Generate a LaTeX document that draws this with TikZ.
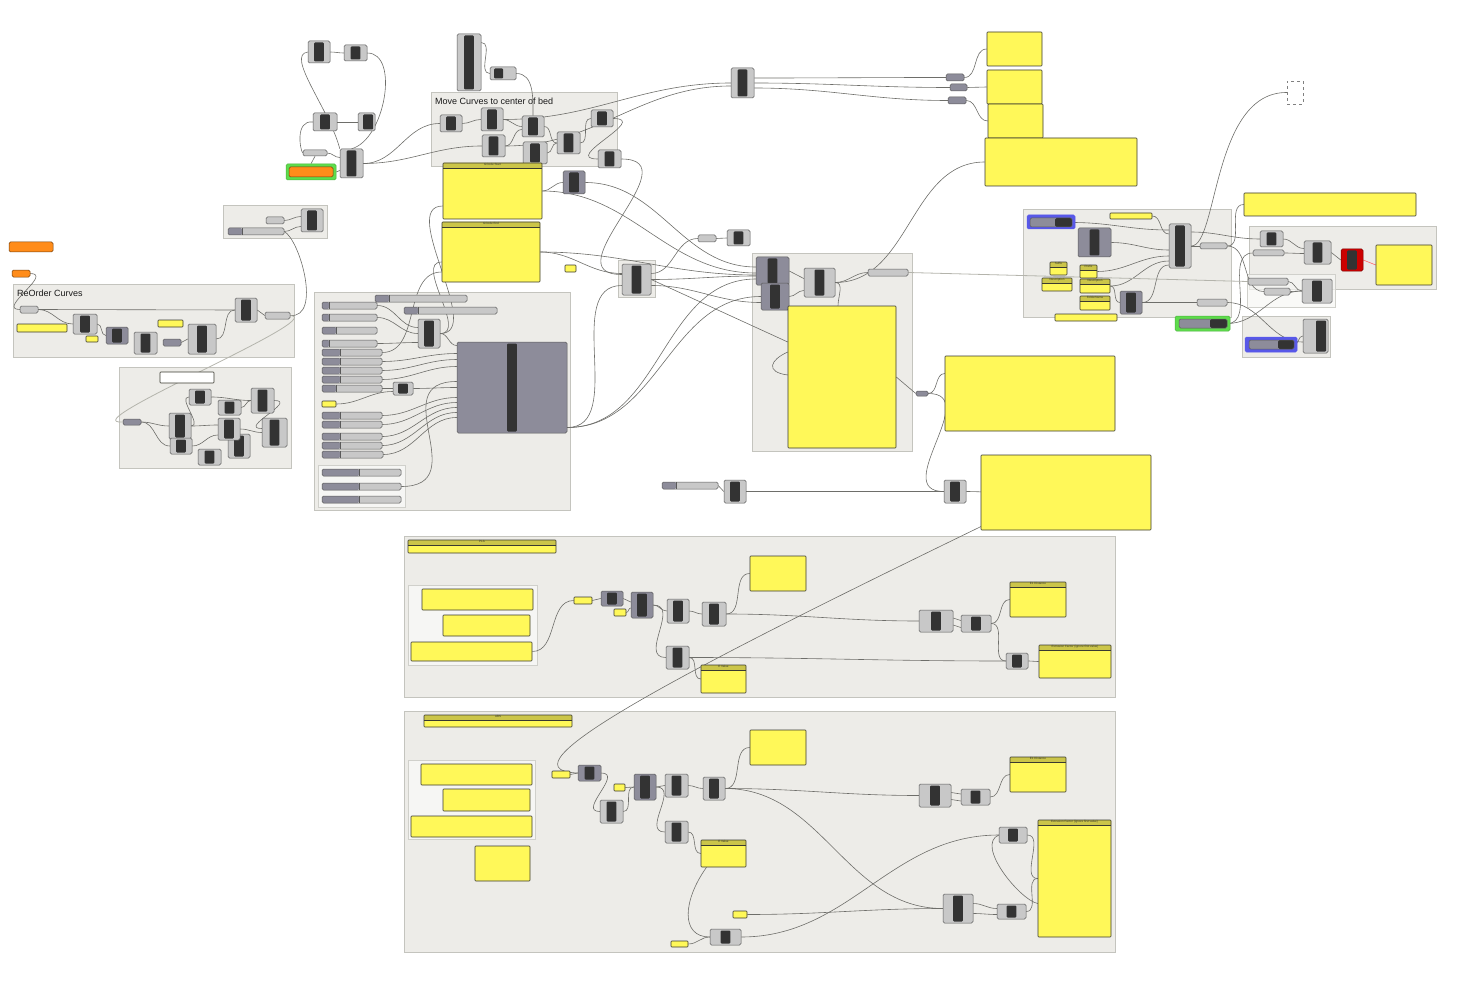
\documentclass[tikz,border=0pt]{standalone}
\usepackage{fontspec}
\setmainfont{Liberation Sans}
\usepackage{tikz}
\definecolor{gfill}{HTML}{EDECE8}
\definecolor{gline}{HTML}{C4C4BE}
\definecolor{sfill}{HTML}{F6F6F4}
\definecolor{cgray}{HTML}{C8C8C8}
\definecolor{dgray}{HTML}{8D8C9A}
\definecolor{barc}{HTML}{333333}
\definecolor{edgec}{HTML}{5A5A5A}
\definecolor{yel}{HTML}{FFF859}
\definecolor{hdr}{HTML}{CBC549}
\definecolor{pedge}{HTML}{3A3A30}
\definecolor{orng}{HTML}{FF8C1A}
\definecolor{grn}{HTML}{5EDC4C}
\definecolor{blu}{HTML}{5858E8}
\definecolor{redc}{HTML}{CC0000}
\definecolor{wirec}{HTML}{6E6E6A}
\definecolor{fwirec}{HTML}{B4B4AC}
\newcommand{\hfont}{\fontsize{3}{3.5}\selectfont}
\pgfdeclarelayer{groups}
\pgfdeclarelayer{wires}
\pgfsetlayers{groups,wires,main}
\tikzset{
	sz/.style 2 args = {minimum width=#1, minimum height=#2},
	grp/.style = {draw=gline, fill=gfill, line width=1pt, inner sep=0pt},
	subgrp/.style = {draw=gline!80, fill=sfill, line width=0.8pt, inner sep=0pt},
	title/.style = {font=\fontsize{9}{10}\selectfont, inner sep=0pt, text=black!90},
	gbox/.style = {draw=edgec, fill=cgray, rounded corners=1.5pt, line width=0.5pt, inner sep=0pt},
	comp/.style = {gbox, path picture={\fill[barc, rounded corners=1pt] ([xshift=-4.8pt,yshift=-1.5pt]path picture bounding box.north) rectangle ([xshift=4.8pt,yshift=1.5pt]path picture bounding box.south);}},
	dcomp/.style = {comp, fill=dgray},
	lcomp/.style = {gbox, path picture={\fill[barc, rounded corners=1pt] ([xshift=4pt,yshift=-1.5pt]path picture bounding box.north west) rectangle ([xshift=13pt,yshift=1.5pt]path picture bounding box.south west);}},
	rcomp/.style = {gbox, path picture={\fill[barc, rounded corners=1pt] ([xshift=-12pt,yshift=-1.5pt]path picture bounding box.north east) rectangle ([xshift=-2pt,yshift=1.5pt]path picture bounding box.south east);}},
	param/.style = {gbox},
	dparam/.style = {gbox, fill=dgray},
	slider/.style = {gbox, path picture={\fill[dgray] (path picture bounding box.south west) rectangle ([xshift=#1]path picture bounding box.north west); \draw[edgec, line width=0.4pt] ([xshift=#1]path picture bounding box.south west) -- ([xshift=#1]path picture bounding box.north west);}},
	rslider/.style = {gbox, fill=dgray, path picture={\fill[barc] ([xshift=-#1]path picture bounding box.south east) rectangle (path picture bounding box.north east);}},
	panel/.style = {draw=pedge, fill=yel, line width=0.6pt, inner sep=0pt, rounded corners=0.8pt},
	hpanel/.style = {panel, path picture={\fill[hdr] ([yshift=-5.5pt]path picture bounding box.north west) rectangle (path picture bounding box.north east); \draw[pedge, line width=0.8pt] ([yshift=-5.5pt]path picture bounding box.north west) -- ([yshift=-5.5pt]path picture bounding box.north east);}, label={[font=\hfont, inner sep=0.7pt, anchor=north, text=pedge]north:#1}},
	wire/.style = {draw=wirec, line width=0.6pt},
	fwire/.style = {draw=fwirec, line width=0.8pt},
	ww/.style = {out=0, in=180}
}

\begin{document}
\begin{tikzpicture}[x=1pt, y=-1pt]
\useasboundingbox (0,0) rectangle (1470,987);

% groups
\begin{pgfonlayer}{groups}
\node[grp, sz={186}{74}] (gmove) at (524,130) {};
\node[grp, sz={281}{73}] (greorder) at (153.5,320.5) {};
\node[grp, sz={104}{33}] (gtop) at (275,222.5) {};
\node[grp, sz={172}{101}] (glow) at (205,417.5) {};
\node[grp, sz={256}{218}] (gsliders) at (442,401) {};
\node[subgrp, sz={87}{42}] (gsub) at (361.5,486) {};
\node[grp, sz={37}{37}] (gp) at (636.5,278.5) {};
\node[grp, sz={160}{197}] (gmid) at (832,352.5) {};
\node[grp, sz={208}{107}] (gr1) at (1127,263.5) {};
\node[grp, sz={187}{62}] (gr2) at (1342.5,258) {};
\node[subgrp, fill opacity=0.7, sz={88}{33}] (gr3) at (1291,290.5) {};
\node[grp, sz={88}{41}] (gr4) at (1286,336.5) {};
\node[grp, sz={711}{161}] (ga) at (759.5,616.5) {};
\node[subgrp, sz={129}{80}] (gasub) at (472.5,625) {};
\node[grp, sz={711}{241}] (gb) at (759.5,831.5) {};
\node[subgrp, sz={127}{79}] (gbsub) at (471.5,799.5) {};
\end{pgfonlayer}
\node[title, anchor=west] (tmove) at (435,101) {Move Curves to center of bed};
\node[title, anchor=west] (treorder) at (17,293) {ReOrder Curves};

% top left
\node[comp, sz={22}{22}] (c1) at (319,52) {};
\node[comp, sz={23}{16}] (c2) at (355.5,53) {};
\node[comp, sz={24}{18}] (c3) at (325,122) {};
\node[rcomp, sz={17}{18}] (c4) at (366.5,122) {};
\node[param, sz={24}{6}] (c5) at (315,153) {};
\node[gbox, fill=grn, draw=grn!80!black, sz={50}{16}] (grn1) at (311,172) {};
\node[gbox, fill=orng, draw=orng!45!black, sz={44}{10}] (or0) at (311,172) {};
\node[comp, sz={23}{29}] (c6) at (351.5,163.5) {};
\node[comp, sz={24}{57}] (c7) at (469,62.5) {};
\node[lcomp, sz={26}{13}] (c8) at (503,73.5) {};

% move curves
\node[comp, sz={22}{17}] (m1) at (451,123.5) {};
\node[comp, sz={22}{23}] (m2) at (492,119.5) {};
\node[comp, sz={22}{21}] (m3) at (533,126.5) {};
\node[comp, sz={22}{17}] (m4) at (602,118.5) {};
\node[comp, sz={23}{22}] (m5) at (493.5,146) {};
\node[comp, sz={24}{22}] (m6) at (535,153) {};
\node[comp, sz={23}{22}] (m7) at (568.5,143) {};
\node[comp, sz={23}{18}] (m8) at (609.5,159) {};
\node[dcomp, sz={22}{23}] (md) at (574,182.5) {};
\node[hpanel=GCode Start, sz={99}{56}] (gcs) at (492.5,191) {};
\node[hpanel=GCode End, sz={98}{60}] (gce) at (491,252) {};

% reorder curves
\node[gbox, fill=orng, draw=orng!45!black, sz={44}{10}] (or1) at (31,247) {};
\node[gbox, fill=orng, draw=orng!45!black, sz={18}{7}] (or2) at (21,273.5) {};
\node[param, sz={18}{7}] (r1) at (29,309.5) {};
\node[panel, sz={50}{8}] (ry1) at (42,328) {};
\node[comp, sz={24}{20}] (r2) at (85,324) {};
\node[panel, sz={12}{6}] (ry2) at (92,339) {};
\node[dcomp, sz={22}{17}] (r3) at (117,335.5) {};
\node[comp, sz={23}{22}] (r4) at (145.5,343) {};
\node[panel, sz={25}{7}] (ry3) at (170.5,323.5) {};
\node[dparam, sz={18}{7}] (r5) at (172,342.5) {};
\node[comp, sz={28}{30}] (r6) at (202,339) {};
\node[comp, sz={22}{24}] (r7) at (246,310) {};
\node[param, sz={25}{7}] (r8) at (277.5,315.5) {};
\node[param, sz={18}{7}] (s1) at (275,220.5) {};
\node[slider=14, sz={56}{7}] (s2) at (256,231.5) {};
\node[comp, sz={22}{23}] (s3) at (312,220.5) {};

% lower left
\node[panel, fill=white, sz={54}{11}] (wpan) at (187,377.5) {};
\node[dparam, sz={18}{6}] (q1) at (132,422) {};
\node[comp, sz={22}{26}] (q2) at (180,426) {};
\node[comp, sz={22}{16}] (q3) at (181,446) {};
\node[comp, sz={22}{16}] (q4) at (200,397) {};
\node[comp, sz={23}{15}] (q5) at (229.5,407.5) {};
\node[comp, sz={23}{25}] (q6) at (262.5,400.5) {};
\node[comp, sz={22}{24}] (q8) at (239,446) {};
\node[comp, sz={22}{22}] (q7) at (229,429) {};
\node[comp, sz={25}{29}] (q9) at (274.5,432.5) {};
\node[comp, sz={23}{16}] (q10) at (209.5,457) {};

% sliders
\node[slider=14, sz={92}{7}] (sa) at (421,298.5) {};
\node[slider=7, sz={55}{7}] (sb) at (349.5,305.5) {};
\node[slider=14, sz={93}{7}] (sc) at (450.5,310.5) {};
\node[slider=7, sz={55}{7}] (sd) at (349.5,317.5) {};
\node[slider=14, sz={55}{7}] (se) at (349.5,330.5) {};
\node[slider=7, sz={55}{7}] (sf) at (349.5,343.5) {};
\node[slider=18, sz={60}{7}] (sg) at (352,352.5) {};
\node[slider=18, sz={60}{7}] (sh) at (352,361.5) {};
\node[slider=18, sz={60}{7}] (si) at (352,370.5) {};
\node[slider=18, sz={60}{7}] (sj) at (352,379.5) {};
\node[slider=14, sz={60}{7}] (sk) at (352,388.5) {};
\node[slider=18, sz={60}{7}] (sl) at (352,415.5) {};
\node[slider=18, sz={60}{7}] (sm) at (352,424.5) {};
\node[slider=18, sz={60}{7}] (sn) at (352,436.5) {};
\node[slider=18, sz={60}{7}] (so) at (352,445.5) {};
\node[slider=18, sz={61}{7}] (sp) at (352.5,454.5) {};
\node[comp, sz={22}{29}] (z1) at (429,333.5) {};
\node[comp, sz={20}{13}] (z2) at (403,388.5) {};
\node[panel, sz={14}{6}] (zy) at (329,404) {};
\node[slider=37, sz={79}{7}] (sq) at (361.5,472.5) {};
\node[slider=37, sz={79}{7}] (sr) at (361.5,486.5) {};
\node[slider=37, sz={79}{7}] (ss) at (361.5,499.5) {};
\node[dcomp, sz={110}{91}] (bigD) at (512,387.5) {};

% middle
\node[comp, sz={29}{31}] (p1) at (636.5,279.5) {};
\node[param, sz={18}{7}] (pp) at (707,238.5) {};
\node[comp, sz={23}{16}] (pc) at (738.5,238) {};
\node[panel, sz={11}{7}] (py) at (570.5,268.5) {};
\node[dcomp, sz={33}{28}] (dk1) at (772.5,271) {};
\node[dcomp, sz={28}{27}] (dk2) at (775,296.5) {};
\node[comp, sz={31}{29}] (cc) at (819.5,282.5) {};
\node[param, sz={40}{7}] (cp) at (888,272.5) {};
\node[panel, sz={108}{142}] (cy) at (842,377) {};
\node[dparam, sz={12}{5}] (dpx) at (922,393.5) {};
\node[panel, sz={170}{75}] (ya) at (1030,393.5) {};
\node[panel, sz={170}{75}] (yb) at (1066,492.5) {};
\node[slider=14, sz={56}{7}] (esl) at (690,485.5) {};
\node[comp, sz={22}{23}] (ec1) at (735,491.5) {};
\node[comp, sz={22}{23}] (ec2) at (955,491.5) {};
\coordinate (wbend) at (980,527);

% top right
\node[comp, sz={23}{30}] (T) at (742.5,83) {};
\node[dparam, sz={18}{7}] (dp1) at (955,77.5) {};
\node[dparam, sz={17}{7}] (dp2) at (958.5,87.5) {};
\node[dparam, sz={18}{7}] (dp3) at (957,100.5) {};
\node[panel, sz={55}{34}] (Y1) at (1014.5,49) {};
\node[panel, sz={55}{34}] (Y2) at (1014.5,87) {};
\node[panel, sz={55}{34}] (Y3) at (1015.5,121) {};
\node[panel, sz={152}{48}] (Y4) at (1061,162) {};
\node[draw=gray, dashed, line width=0.5pt, inner sep=0pt, sz={16}{23}] (dash) at (1295,92.5) {};

% right
\node[gbox, fill=blu, draw=blu, sz={48}{14}] (bl1) at (1051,222) {};
\node[rslider=17, sz={42}{9}] (bsl1) at (1051,222.5) {};
\node[panel, sz={42}{6}] (ry4) at (1131,216) {};
\node[dcomp, sz={33}{29}] (rd1) at (1094.5,242.5) {};
\node[comp, sz={22}{44}] (rb) at (1180,246) {};
\node[param, sz={27}{6}] (rp1) at (1213.5,246) {};
\node[hpanel=Suffix, sz={17}{13}] (hp1) at (1058.5,268.5) {};
\node[hpanel=Prefix, sz={17}{13}] (hp2) at (1088.5,271.5) {};
\node[hpanel=Description, sz={30}{13}] (hp3) at (1057,284.5) {};
\node[hpanel=Description, sz={30}{14}] (hp4) at (1095,286) {};
\node[hpanel=FolderName, sz={30}{14}] (hp5) at (1095,303) {};
\node[dcomp, sz={22}{23}] (rd2) at (1131,302.5) {};
\node[param, sz={30}{7}] (rp2) at (1212,302.5) {};
\node[panel, sz={62}{7}] (ry5) at (1086,317.5) {};
\node[gbox, fill=grn, draw=grn!80!black, sz={55}{15}] (gr5) at (1202.5,323.5) {};
\node[rslider=17, sz={48}{9}] (gsl) at (1203,323.5) {};
\node[panel, sz={172}{23}] (ylong) at (1330,204.5) {};
\node[comp, sz={23}{16}] (g2a) at (1271.5,239) {};
\node[param, sz={31}{6}] (g2p) at (1268.5,253) {};
\node[comp, sz={27}{23}] (g2b) at (1317.5,252.5) {};
\node[comp, fill=redc, draw=redc!60!black, sz={22}{22}] (g2r) at (1352,260) {};
\node[panel, sz={56}{40}] (g2y) at (1404,265) {};
\node[param, sz={40}{7}] (g3p1) at (1268,281.5) {};
\node[param, sz={26}{7}] (g3p2) at (1277,291.5) {};
\node[comp, sz={30}{24}] (g3c) at (1317,291) {};
\node[gbox, fill=blu, draw=blu, sz={52}{15}] (bl2) at (1271,344.5) {};
\node[rslider=16, sz={45}{9}] (bsl2) at (1271.5,344.5) {};
\node[rcomp, sz={25}{34}] (g4c) at (1315.5,336) {};

% group a
\node[hpanel=PLA, sz={148}{13}] (ahd) at (482,546.5) {};
\node[panel, sz={111}{21}] (ay1) at (477.5,599.5) {};
\node[panel, sz={87}{21}] (ay2) at (486.5,625.5) {};
\node[panel, sz={121}{19}] (ay3) at (471.5,651.5) {};
\node[panel, sz={18}{7}] (ays1) at (583,600.5) {};
\node[dcomp, sz={22}{15}] (ad1) at (612,598.5) {};
\node[panel, sz={12}{7}] (ays2) at (620,612.5) {};
\node[dcomp, sz={22}{26}] (ad2) at (642,605) {};
\node[comp, sz={22}{24}] (ac1) at (678,611) {};
\node[comp, sz={24}{24}] (ac2) at (714,614) {};
\node[panel, sz={56}{35}] (ayp) at (778,573.5) {};
\node[comp, sz={34}{22}] (ac3) at (936,621) {};
\node[comp, sz={30}{17}] (ac4) at (976,623.5) {};
\node[hpanel=E1 Distance, sz={56}{35}] (ah1) at (1038,599.5) {};
\node[comp, sz={23}{23}] (ac5) at (677.5,657.5) {};
\node[hpanel=E Value, sz={45}{28}] (ah2) at (723.5,679) {};
\node[comp, sz={22}{16}] (ac6) at (1017,661) {};
\node[hpanel=Extrusion Factor (ignore first value), sz={72}{33}] (ah3) at (1075,661.5) {};

% group b
\node[hpanel=ABS, sz={148}{12}] (bhd) at (498,721) {};
\node[panel, sz={111}{21}] (by1) at (476.5,774.5) {};
\node[panel, sz={87}{22}] (by2) at (486.5,800) {};
\node[panel, sz={121}{21}] (by3) at (471.5,826.5) {};
\node[panel, sz={55}{35}] (by4) at (502.5,863.5) {};
\node[panel, sz={18}{7}] (bys1) at (561,774.5) {};
\node[dcomp, sz={23}{16}] (bd1) at (589.5,773) {};
\node[comp, sz={23}{23}] (bc0) at (611.5,811.5) {};
\node[panel, sz={11}{7}] (bys2) at (619.5,787.5) {};
\node[dcomp, sz={22}{26}] (bd2) at (645,787) {};
\node[comp, sz={23}{23}] (bc1) at (676.5,785.5) {};
\node[comp, sz={22}{23}] (bc2) at (714,788.5) {};
\node[panel, sz={56}{35}] (byp) at (778,747.5) {};
\node[comp, sz={32}{23}] (bc3) at (935,795.5) {};
\node[comp, sz={29}{16}] (bc4) at (975.5,797) {};
\node[hpanel=E1 Distance, sz={56}{35}] (bh1) at (1038,774.5) {};
\node[comp, sz={23}{22}] (bc5) at (676.5,832) {};
\node[hpanel=E Value, sz={45}{27}] (bh2) at (723.5,853.5) {};
\node[comp, sz={28}{16}] (bc6) at (1013,835) {};
\node[hpanel=Extrusion Factor (ignore first value), sz={73}{117}] (bh3) at (1074.5,878.5) {};
\node[comp, sz={30}{29}] (bc7) at (958,908.5) {};
\node[comp, sz={29}{15}] (bc8) at (1011.5,911.5) {};
\node[panel, sz={14}{7}] (bys3) at (740,914.5) {};
\node[comp, sz={31}{16}] (bc9) at (725.5,937) {};
\node[panel, sz={17}{6}] (bys4) at (679.5,944) {};

% wires
\begin{pgfonlayer}{wires}
\draw[wire] (c1.east) to[ww] (c2.west);
\draw[wire] (c2.east) .. controls (400,53) and (385,140) .. (c6.north);
\draw[wire] (c1.west) .. controls (285,55) and (330,110) .. (c6.north west);
\draw[wire] (c3.west) .. controls (295,120) and (300,150) .. (c5.west);
\draw[wire] (c3.east) -- (c4.west);
\draw[wire] (c5.east) to[ww] ([yshift=6]c6.west);
\draw[wire] (c5.south) -- (grn1.north);
\draw[wire] (grn1.east) to[ww] ([yshift=-7]c6.west);
\draw[wire] (c6.east) to[ww] (m1.west);
\draw[wire] (c6.east) to[ww] (m5.west);
\draw[wire] ([yshift=20]c7.east) to[ww] (c8.west);
\draw[wire] (c8.east) to[out=0,in=90] (m3.north);
\draw[wire] (m1.east) to[ww] (m2.west);
\draw[wire] (m2.east) to[ww] (m3.west);
\draw[wire] (m5.east) to[ww] ([yshift=-3]m3.west);
\draw[wire] (m3.east) to[ww] (m7.west);
\draw[wire] (m6.east) to[ww] (m7.west);
\draw[wire] (m7.east) to[ww] (m4.west);
\draw[wire] (m4.east) to[out=0,in=180,looseness=2.2] (m8.west);
\draw[wire] (m2.east) to[ww] (T.west);
\draw[wire] (m5.east) to[ww] ([yshift=-3]T.west);
\draw[wire] (m8.east) to[out=0,in=180,looseness=1.6] ([yshift=5]p1.west);
\draw[wire] (gcs.east) to[ww] (md.west);
\draw[wire] (md.east) to[ww] ([yshift=4]dk1.west);
\draw[wire] (gcs.east) to[ww] ([yshift=-2]dk1.west);
\draw[wire] (gce.east) to[ww] ([yshift=6]p1.west);
\draw[wire] (gce.east) to[ww] ([yshift=-4]dk1.west);
\draw[wire] (z1.east) to[out=0,in=180,looseness=0.9] ([yshift=-15]gcs.west);
\draw[wire] (z1.east) to[out=0,in=180,looseness=1] ([yshift=-10]gce.west);
\draw[wire] (sg.east) to[out=0,in=180,looseness=1] ([yshift=-20]gce.west);
\draw[wire] (sb.east) to[ww] ([yshift=6]z1.west);
\draw[wire] (sd.east) to[ww] (z1.west);
\draw[wire] (sf.east) to[ww] ([yshift=-9]z1.west);
\draw[wire] (z1.east) to[ww] ([yshift=42]bigD.west);
\draw[wire] (sh.east) to[ww] ([yshift=34]bigD.west);
\draw[wire] (si.east) to[ww] ([yshift=28]bigD.west);
\draw[wire] (sj.east) to[ww] ([yshift=21]bigD.west);
\draw[wire] (sk.east) -- (z2.west);
\draw[wire] (zy.east) to[ww] ([yshift=-3]z2.west);
\draw[wire] (z2.east) to[ww] (bigD.west);
\draw[wire] (sr.east) to[out=0,in=180,looseness=1.6] ([yshift=6]bigD.west);
\draw[wire] (sl.east) to[ww] ([yshift=-10]bigD.west);
\draw[wire] (sm.east) to[ww] ([yshift=-15]bigD.west);
\draw[wire] (sn.east) to[ww] ([yshift=-20]bigD.west);
\draw[wire] (so.east) to[ww] ([yshift=-25]bigD.west);
\draw[wire] (sp.east) to[ww] ([yshift=-30]bigD.west);
\draw[wire] ([yshift=-40]bigD.east) to[ww] ([yshift=-6]p1.west);
\draw[wire] ([yshift=-40]bigD.east) to[ww] ([yshift=-8]dk1.west);
\draw[wire] ([yshift=-40]bigD.east) to[ww] (dk2.west);
\draw[wire] (p1.east) to[ww] ([yshift=-5]dk1.west);
\draw[wire] ([yshift=-6]p1.east) to[ww] ([yshift=-6]dk2.west);
\draw[wire] ([yshift=6]p1.east) to[ww] (pp.west);
\draw[wire] (pp.east) -- (pc.west);
\draw[wire] (p1.east) -- ([yshift=35]cy.west);
\draw[wire] (dk1.east) -- ([yshift=4]cc.west);
\draw[wire] (dk2.east) to[ww] ([yshift=-8]cc.west);
\draw[wire] (cc.east) to[ww] (cp.west);
\draw[wire] (cc.east) to[ww] (Y4.west);
\draw[wire] (cc.east) to[out=0,in=90] ([xshift=-4]cy.north);
\draw[wire] ([yshift=25]cy.west) .. controls (770,360) and (765,372) .. ([yshift=2]cy.west);
\draw[wire] (cy.east) -- (dpx.west);
\draw[wire] (dpx.east) to[ww] ([yshift=20]ya.west);
\draw[wire] (dpx.east) to[out=0,in=180,looseness=1.4] (ec2.west);
\draw[wire] (esl.east) -- (ec1.west);
\draw[wire] (ec1.east) -- (ec2.west);
\draw[wire] (ec2.east) .. controls (1040,492) and (1015,510) .. (wbend) .. controls (700,663) and (490,770) .. (bd1.west);
\draw[wire] ([yshift=5]T.east) to[ww] (dp1.west);
\draw[wire] (T.east) to[ww] (dp2.west);
\draw[wire] ([yshift=-5]T.east) to[ww] (dp3.west);
\draw[wire] (dp1.east) to[ww] (Y1.west);
\draw[wire] (dp2.east) -- (Y2.west);
\draw[wire] (dp3.east) to[ww] (Y3.west);
\draw[wire] (bsl1.east) to[ww] ([yshift=16]rb.west);
\draw[wire] (ry4.east) to[ww] ([yshift=12]rb.west);
\draw[wire] (rd1.east) to[ww] ([yshift=-4]rb.west);
\draw[wire] (hp2.east) to[ww] ([yshift=-10]rb.west);
\draw[wire] (hp4.east) to[ww] ([yshift=-15]rb.west);
\draw[wire] (hp4.east) to[ww] (rd2.west);
\draw[wire] (rd2.east) to[ww] ([yshift=-19]rb.west);
\draw[wire] (rd2.east) -- (rp2.west);
\draw[wire] (rb.east) -- (rp1.west);
\draw[wire] ([yshift=14]rb.east) to[ww] (g2a.west);
\draw[wire] (rb.east) .. controls (1218,246) and (1212,92) .. (dash.west);
\draw[wire] (rp1.east) to[ww] (ylong.west);
\draw[wire] (rp1.east) to[ww] (g3p2.west);
\draw[wire] (gsl.east) to[ww] (g2p.west);
\draw[wire] (gsl.east) to[ww] (g3c.west);
\draw[wire] (rp2.east) to[ww] ([yshift=-6]g4c.west);
\draw[wire] (bsl2.east) to[ww] (g4c.west);
\draw[wire] (g2a.east) to[ww] ([yshift=4]g2b.west);
\draw[wire] (g2p.east) to[ww] ([yshift=-1]g2b.west);
\draw[wire] (g2b.east) -- (g2r.west);
\draw[wire, draw=red!60] (g2r.east) -- (g2y.west);
\draw[wire] (g3p1.east) to[ww] (g3c.west);
\draw[wire] (g3p2.east) to[ww] (g3c.west);
\draw[fwire] (cp.east) -- (g3p1.west);
\draw[wire] (or2.east) to[out=0,in=180,looseness=1.6] (r1.west);
\draw[wire] (r1.east) -- (r7.west);
\draw[wire] (r1.east) to[ww] (r2.west);
\draw[wire] (r2.east) to[ww] (r3.west);
\draw[wire] (r5.east) to[ww] (r6.west);
\draw[wire] (r6.east) to[ww] (r7.west);
\draw[wire] (r7.east) -- (r8.west);
\draw[wire] (s2.east) .. controls (300,240) and (322,318) .. (r8.east);
\draw[fwire] (r8.east) .. controls (330,318) and (70,425) .. (q1.west);
\draw[wire] (s1.east) to[ww] ([yshift=4]s3.west);
\draw[wire] (s2.east) to[ww] ([yshift=-6]s3.west);
\draw[wire] (q1.east) to[ww] (q2.west);
\draw[wire] (q1.east) to[ww] (q3.west);
\draw[wire] (q2.east) to[ww] (q4.west);
\draw[wire] (q4.east) to[ww] (q6.west);
\draw[wire] (q5.east) to[ww] (q6.west);
\draw[wire] (q2.east) to[ww] ([yshift=4]q7.west);
\draw[wire] (q3.east) to[ww] ([yshift=-6]q7.west);
\draw[wire] (q7.east) to[ww] (q9.west);
\draw[wire] (q6.east) to[out=0,in=180,looseness=2] ([yshift=4]q9.west);
\draw[wire] (ay3.east) to[ww] (ays1.west);
\draw[wire] (ays1.east) to[ww] (ad1.west);
\draw[wire] (ad1.east) to[ww] ([yshift=3]ad2.west);
\draw[wire] (ays2.east) to[ww] ([yshift=-3]ad2.west);
\draw[wire] (ad2.east) to[ww] (ac1.west);
\draw[wire] (ad2.east) to[out=0,in=180,looseness=1.3] (ac5.west);
\draw[wire] (ac1.east) to[ww] (ac2.west);
\draw[wire] (ac2.east) to[ww] (ayp.west);
\draw[wire] (ac2.east) to[ww] (ac3.west);
\draw[wire] ([yshift=3]ac3.east) to[ww] ([yshift=3]ac4.west);
\draw[wire] ([yshift=-4]ac3.east) to[ww] ([yshift=-4]ac4.west);
\draw[wire] (ac4.east) to[ww] (ah1.west);
\draw[wire] (ac4.east) to[ww] (ac6.west);
\draw[wire] (ac5.east) to[ww] (ah2.west);
\draw[wire] (ac5.east) to[ww] (ac6.west);
\draw[wire] (ac6.east) to[ww] (ah3.west);
\draw[wire] (bys1.east) to[ww] (bd1.west);
\draw[wire] (bd1.east) to[out=0,in=180,looseness=1.5] (bc0.west);
\draw[wire] (bc0.east) to[ww] (bd2.west);
\draw[wire] (bys2.east) to[ww] (bd2.west);
\draw[wire] (bd2.east) to[ww] (bc1.west);
\draw[wire] (bd2.east) to[out=0,in=180,looseness=1.3] (bc5.west);
\draw[wire] (bc1.east) to[ww] (bc2.west);
\draw[wire] (bc2.east) to[ww] (byp.west);
\draw[wire] (bc2.east) to[ww] (bc3.west);
\draw[wire] (bc2.east) to[ww] (bc7.west);
\draw[wire] ([yshift=3]bc3.east) to[ww] ([yshift=3]bc4.west);
\draw[wire] ([yshift=-4]bc3.east) to[ww] ([yshift=-4]bc4.west);
\draw[wire] (bc4.east) to[ww] (bh1.west);
\draw[wire] (bc5.east) to[ww] (bh2.west);
\draw[wire] ([xshift=-17]bh2.south) .. controls (683,900) and (680,937) .. (bc9.west);
\draw[wire] (bys4.east) to[ww] (bc9.west);
\draw[wire] (bc9.east) to[ww] (bc6.west);
\draw[wire] (bys3.east) to[ww] (bc7.west);
\draw[wire] ([yshift=5]bc7.east) to[ww] ([yshift=3]bc8.west);
\draw[wire] ([yshift=-5]bc7.east) to[ww] ([yshift=-3]bc8.west);
\draw[wire] (bc8.east) to[ww] (bh3.west);
\draw[wire] (bc6.east) to[ww] (bh3.west);
\draw[wire] (bc6.west) .. controls (975,845) and (1020,900) .. ([yshift=-25]bh3.west);
\end{pgfonlayer}
\end{tikzpicture}
\end{document}
